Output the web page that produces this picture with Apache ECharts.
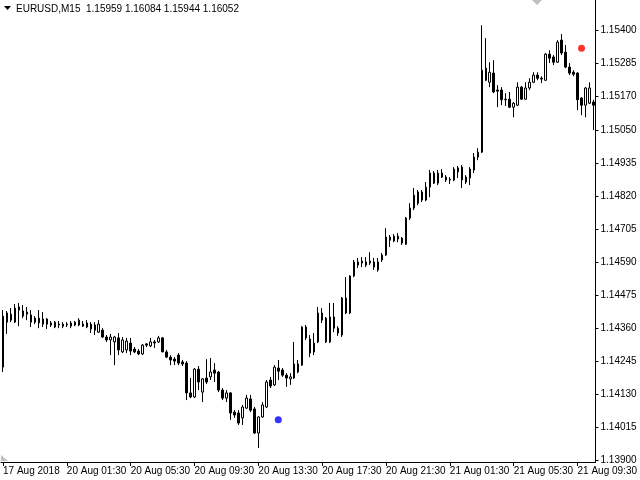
<!DOCTYPE html>
<html>
<head>
<meta charset="utf-8">
<script src="https://cdn.jsdelivr.net/npm/echarts@6/dist/echarts.min.js"></script>
<style>html,body{margin:0;padding:0;background:#fff}#c{width:640px;height:480px}</style>
</head>
<body>
<div id="c"></div>
<script>
// ---- data (EURUSD M15) ----
const opens = [1.14224,1.14413,1.14388,1.14381,1.14423,1.14402,1.14416,1.14406,1.14395,1.14378,
1.14374,1.14392,1.14378,1.14381,1.14371,1.14374,1.14371,1.14367,1.14371,1.14388,
1.14374,1.14378,1.14374,1.14371,1.14346,1.14353,1.14329,1.14319,1.14312,1.14326,
1.14277,1.14284,1.14308,1.14287,1.14280,1.14270,1.14305,1.14298,1.14312,1.14312,
1.14326,1.14277,1.14259,1.14252,1.14266,1.14242,1.14238,1.14134,1.14120,1.14217,
1.14137,1.14186,1.14190,1.14214,1.14207,1.14144,1.14116,1.14134,1.14067,1.14064,
1.14047,1.14081,1.14113,1.14078,1.13994,1.14050,1.14085,1.14179,1.14162,1.14221,
1.14214,1.14196,1.14183,1.14186,1.14207,1.14231,1.14364,1.14322,1.14277,1.14312,
1.14413,1.14395,1.14312,1.14399,1.14360,1.14336,1.14465,1.14413,1.14542,1.14580,
1.14594,1.14580,1.14587,1.14591,1.14563,1.14598,1.14615,1.14678,1.14664,1.14681,
1.14674,1.14653,1.14744,1.14779,1.14796,1.14835,1.14807,1.14852,1.14901,1.14866,
1.14901,1.14887,1.14877,1.14877,1.14905,1.14922,1.14887,1.14884,1.14912,1.14957,
1.14974,1.15267,1.15218,1.15250,1.15191,1.15191,1.15159,1.15159,1.15131,1.15138,
1.15201,1.15159,1.15198,1.15218,1.15243,1.15232,1.15225,1.15316,1.15306,1.15288,
1.15365,1.15323,1.15271,1.15253,1.15250,1.15163,1.15138,1.15145,1.15149];
const closes = [1.14402,1.14381,1.14409,1.14430,1.14434,1.14420,1.14409,1.14381,1.14381,1.14395,
1.14392,1.14374,1.14371,1.14364,1.14374,1.14367,1.14374,1.14378,1.14381,1.14371,
1.14367,1.14364,1.14357,1.14353,1.14374,1.14329,1.14319,1.14329,1.14329,1.14284,
1.14319,1.14315,1.14280,1.14277,1.14270,1.14301,1.14301,1.14312,1.14308,1.14326,
1.14277,1.14259,1.14249,1.14245,1.14238,1.14235,1.14134,1.14120,1.14217,1.14172,
1.14183,1.14172,1.14207,1.14203,1.14144,1.14116,1.14134,1.14064,1.14057,1.14029,
1.14085,1.14116,1.14074,1.13994,1.14050,1.14092,1.14172,1.14158,1.14224,1.14210,
1.14196,1.14186,1.14190,1.14235,1.14235,1.14364,1.14326,1.14273,1.14308,1.14413,
1.14388,1.14312,1.14399,1.14360,1.14343,1.14465,1.14413,1.14542,1.14591,1.14591,
1.14587,1.14591,1.14594,1.14573,1.14591,1.14615,1.14678,1.14667,1.14681,1.14671,
1.14657,1.14744,1.14779,1.14824,1.14835,1.14807,1.14852,1.14901,1.14866,1.14901,
1.14887,1.14877,1.14880,1.14915,1.14919,1.14877,1.14870,1.14915,1.14957,1.14974,
1.15260,1.15225,1.15253,1.15184,1.15187,1.15157,1.15157,1.15131,1.15145,1.15201,
1.15159,1.15198,1.15218,1.15243,1.15232,1.15229,1.15316,1.15302,1.15288,1.15358,
1.15320,1.15271,1.15250,1.15246,1.15157,1.15138,1.15198,1.15198,1.15138];
const lows = [1.14207,1.14340,1.14381,1.14378,1.14367,1.14395,1.14388,1.14364,1.14374,1.14360,
1.14364,1.14357,1.14364,1.14360,1.14360,1.14360,1.14364,1.14360,1.14367,1.14367,
1.14364,1.14360,1.14343,1.14336,1.14343,1.14326,1.14312,1.14266,1.14231,1.14266,
1.14273,1.14273,1.14266,1.14273,1.14266,1.14266,1.14294,1.14294,1.14291,1.14308,
1.14277,1.14256,1.14231,1.14231,1.14231,1.14228,1.14109,1.14116,1.14116,1.14144,
1.14102,1.14165,1.14179,1.14172,1.14137,1.14109,1.14102,1.14040,1.14047,1.14022,
1.14022,1.14078,1.14067,1.13991,1.13942,1.14047,1.14081,1.14151,1.14158,1.14179,
1.14190,1.14155,1.14162,1.14183,1.14203,1.14228,1.14319,1.14259,1.14266,1.14308,
1.14378,1.14308,1.14308,1.14346,1.14333,1.14329,1.14409,1.14409,1.14538,1.14570,
1.14573,1.14573,1.14580,1.14563,1.14557,1.14591,1.14612,1.14643,1.14660,1.14660,
1.14650,1.14650,1.14737,1.14772,1.14789,1.14800,1.14803,1.14817,1.14863,1.14859,
1.14884,1.14870,1.14863,1.14873,1.14884,1.14849,1.14863,1.14859,1.14901,1.14946,
1.14971,1.15222,1.15201,1.15180,1.15131,1.15138,1.15135,1.15128,1.15096,1.15135,
1.15157,1.15157,1.15191,1.15215,1.15225,1.15215,1.15222,1.15285,1.15278,1.15285,
1.15313,1.15267,1.15243,1.15239,1.15121,1.15103,1.15096,1.15142,1.15051];
const highs = [1.14423,1.14420,1.14430,1.14444,1.14448,1.14441,1.14434,1.14423,1.14402,1.14423,
1.14416,1.14395,1.14385,1.14385,1.14385,1.14381,1.14381,1.14385,1.14385,1.14395,
1.14385,1.14388,1.14381,1.14381,1.14388,1.14360,1.14336,1.14340,1.14333,1.14343,
1.14329,1.14326,1.14326,1.14294,1.14287,1.14305,1.14308,1.14326,1.14319,1.14333,
1.14329,1.14284,1.14266,1.14259,1.14273,1.14249,1.14245,1.14186,1.14221,1.14228,
1.14186,1.14252,1.14256,1.14238,1.14210,1.14151,1.14144,1.14137,1.14074,1.14074,
1.14092,1.14127,1.14127,1.14085,1.14053,1.14102,1.14179,1.14190,1.14231,1.14249,
1.14221,1.14203,1.14203,1.14312,1.14249,1.14367,1.14371,1.14336,1.14343,1.14434,
1.14430,1.14399,1.14448,1.14448,1.14367,1.14469,1.14538,1.14545,1.14598,1.14605,
1.14608,1.14608,1.14625,1.14605,1.14605,1.14622,1.14709,1.14685,1.14688,1.14692,
1.14678,1.14748,1.14796,1.14849,1.14842,1.14842,1.14870,1.14912,1.14908,1.14912,
1.14915,1.14894,1.14887,1.14922,1.14926,1.14929,1.14894,1.14922,1.14971,1.14988,
1.15417,1.15372,1.15288,1.15295,1.15208,1.15201,1.15180,1.15184,1.15149,1.15218,
1.15205,1.15218,1.15232,1.15253,1.15253,1.15239,1.15320,1.15330,1.15313,1.15365,
1.15386,1.15348,1.15285,1.15260,1.15253,1.15166,1.15201,1.15218,1.15157];

// indicator signals: [bar index, price]
const buySignals = [[69, 1.14040]];
const sellSignals = [[145, 1.15337]];

// axis tick labels
const yTickLabels = [1.13900,1.14015,1.14130,1.14245,1.14360,1.14475,1.14590,1.14705,1.14820,1.14935,1.15050,1.15170,1.15285,1.15400];
const xTickLabels = ['17 Aug 2018','20 Aug 01:30','20 Aug 05:30','20 Aug 09:30','20 Aug 13:30','20 Aug 17:30','20 Aug 21:30','21 Aug 01:30','21 Aug 05:30','21 Aug 09:30'];
const xTickEvery = 16;
const headerText = 'EURUSD,M15  1.15959 1.16084 1.15944 1.16052';

// categories: bar times (15 min bars, weekend skipped)
const months = ['Jan','Feb','Mar','Apr','May','Jun','Jul','Aug','Sep','Oct','Nov','Dec'];
const categories = [];
{
  let t = Date.UTC(2018, 7, 17, 21, 30);
  const weekendStart = Date.UTC(2018, 7, 18, 0, 0);
  for (let i = 0; i < opens.length; i++) {
    if (t >= weekendStart && t < Date.UTC(2018, 7, 20, 0, 0)) t = Date.UTC(2018, 7, 20, 0, 0);
    const d = new Date(t);
    const p = n => String(n).padStart(2, '0');
    categories.push(d.getUTCDate() + ' ' + months[d.getUTCMonth()] + ' ' + p(d.getUTCHours()) + ':' + p(d.getUTCMinutes()));
    t += 15 * 60 * 1000;
  }
}

const ohlc = opens.map((o, i) => [o, closes[i], lows[i], highs[i]]);

const FONT = 'Liberation Sans';
const chart = echarts.init(document.getElementById('c'), null, {renderer: 'canvas'});
chart.setOption({
  animation: false,
  backgroundColor: '#ffffff',
  grid: {left: 0.5, right: 43.5, top: 0, bottom: 18, containLabel: false},
  xAxis: {
    type: 'category',
    data: categories,
    boundaryGap: true,
    axisLine: {show: true, lineStyle: {color: '#000', width: 1}},
    axisTick: {show: true, length: 4, alignWithLabel: true, interval: (i) => i % xTickEvery === 0, lineStyle: {color: '#000'}},
    axisLabel: {
      show: true, interval: (i) => i % xTickEvery === 0, align: 'left', margin: 4,
      color: '#000', fontFamily: FONT, fontSize: 10,
      formatter: (v, i) => xTickLabels[Math.round(i / xTickEvery)] || ''
    },
    splitLine: {show: false}
  },
  yAxis: {
    type: 'value', position: 'right', scale: true,
    min: 1.13893, max: 1.15505,
    axisLine: {show: true, lineStyle: {color: '#000', width: 1}},
    axisTick: {show: true, length: 3, customValues: yTickLabels, lineStyle: {color: '#000'}},
    axisLabel: {show: true, customValues: yTickLabels, margin: 5, color: '#000', fontFamily: FONT, fontSize: 10,
      formatter: (v) => v.toFixed(5)},
    splitLine: {show: false}
  },
  series: [
    {
      type: 'candlestick', data: ohlc, barWidth: 2, clip: false,
      itemStyle: {color: '#ffffff', color0: '#000000', borderColor: '#000000', borderColor0: '#000000', borderWidth: 1}
    },
    {type: 'scatter', data: buySignals, symbol: 'circle', symbolSize: 7, itemStyle: {color: '#0000ff'}, z: 5},
    {type: 'scatter', data: sellSignals, symbol: 'circle', symbolSize: 7, itemStyle: {color: '#ff0000'}, z: 5}
  ],
  graphic: [
    {type: 'polygon', shape: {points: [[4, 6], [11, 6], [7.5, 10]]}, style: {fill: '#000'}},
    {type: 'text', left: 16, top: 4, style: {text: headerText, fill: '#000', font: '10px "Liberation Sans"'}},
    {type: 'polygon', shape: {points: [[532, 0], [542, 0], [537, 5]]}, style: {fill: '#c0c0c0'}},
    {type: 'polygon', shape: {points: [[1, 455], [1, 461], [8, 461]]}, style: {fill: '#c0c0c0'}}
  ]
});
</script>
</body>
</html>
